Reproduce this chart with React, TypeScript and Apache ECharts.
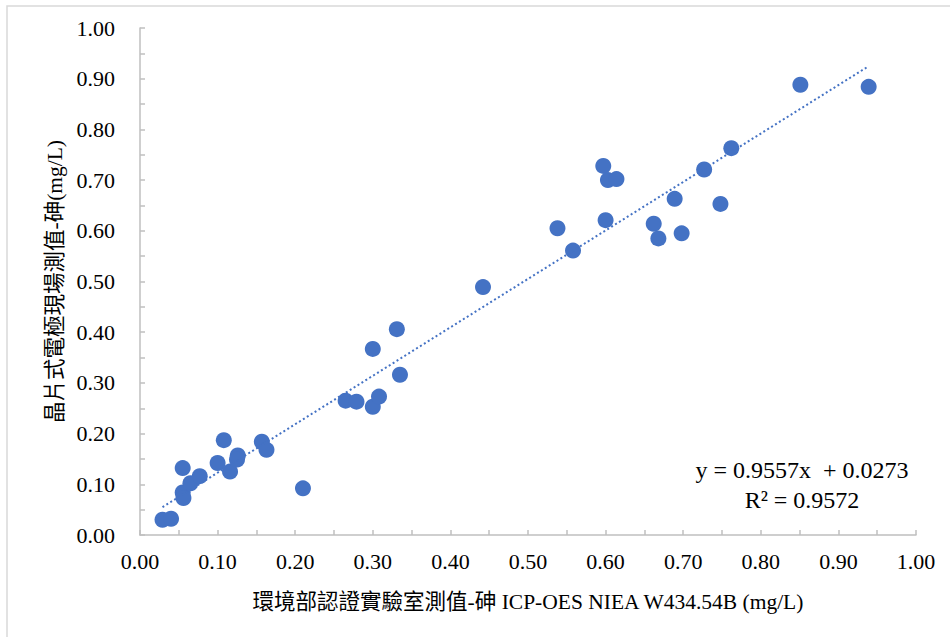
import React, { useEffect, useRef } from "react";
import * as echarts from "echarts";

const labX: number[] = [
  0.029, 0.04, 0.055, 0.055, 0.056, 0.065, 0.077, 0.108, 0.1, 0.116, 0.126, 0.125, 0.157, 0.163, 0.21,
  0.265, 0.279, 0.3, 0.308, 0.3, 0.331, 0.335, 0.442, 0.538, 0.558, 0.597, 0.603, 0.614, 0.6, 0.662,
  0.668, 0.689, 0.698, 0.727, 0.748, 0.762, 0.851, 0.939,
];
const fieldY: number[] = [
  0.03, 0.032, 0.132, 0.084, 0.073, 0.102, 0.116, 0.187, 0.142, 0.125, 0.157, 0.149, 0.184, 0.168, 0.092,
  0.265, 0.263, 0.253, 0.273, 0.367, 0.406, 0.316, 0.489, 0.605, 0.561, 0.728, 0.7, 0.702, 0.621, 0.614,
  0.585, 0.663, 0.595, 0.721, 0.653, 0.763, 0.888, 0.884,
];
const slope = 0.9557;
const intercept = 0.0273;
const rSquared = 0.9572;

const xAxisTitle = "環境部認證實驗室測值-砷 ICP-OES NIEA W434.54B (mg/L)";
const yAxisTitle = "晶片式電極現場測值-砷(mg/L)";

const FONT = "'Liberation Serif', 'Times New Roman', 'Noto Sans CJK TC', serif";
const BLUE = "#4472C4";
const AXIS = "#BFBFBF";

export default function App() {
  const ref = useRef<HTMLDivElement>(null);
  useEffect(() => {
    if (!ref.current) return;
    const chart = echarts.init(ref.current, undefined, { renderer: "svg" });
    const pts = labX.map((x, i) => [x, fieldY[i]]);
    const xmin = Math.min(...labX);
    const xmax = Math.max(...labX);
    const trend = [
      [xmin, slope * xmin + intercept],
      [xmax, slope * xmax + intercept],
    ];
    const fmt = (v: number) => (Math.round(v * 100) % 10 === 0 ? v.toFixed(2) : "");
    const axisCommon = {
      type: "value" as const,
      min: 0,
      max: 1,
      interval: 0.05,
      axisLine: { show: true, lineStyle: { color: AXIS, width: 1.5 } },
      axisTick: { show: true, inside: true, length: 5, lineStyle: { color: AXIS, width: 1.5 } },
      splitLine: { show: false },
      axisLabel: { formatter: fmt, color: "#000", fontFamily: FONT, fontSize: 22 },
      nameLocation: "middle" as const,
      nameTextStyle: { color: "#000", fontFamily: FONT, fontSize: 21.5 },
    };
    chart.setOption({
      animation: false,
      backgroundColor: "#fff",
      grid: { left: 140, right: 34, top: 28, bottom: 102, containLabel: false },
      xAxis: {
        ...axisCommon,
        name: xAxisTitle,
        nameGap: 56,
        axisLabel: { ...axisCommon.axisLabel, margin: 15 },
      },
      yAxis: {
        ...axisCommon,
        name: yAxisTitle,
        nameGap: 72,
        axisLabel: { ...axisCommon.axisLabel, margin: 25 },
      },
      graphic: [
        {
          type: "rect",
          shape: { x: 7, y: 6, width: 960, height: 660 },
          style: { fill: "none", stroke: "#D9D9D9", lineWidth: 1.5 },
          silent: true,
        },
        {
          type: "text",
          x: 802,
          y: 470,
          style: {
            text: `y = ${slope.toFixed(4)}x  + ${intercept.toFixed(4)}`,
            fill: "#000",
            font: `24px ${FONT}`,
            align: "center",
            verticalAlign: "middle",
          },
        },
        {
          type: "text",
          x: 802,
          y: 500,
          style: {
            text: `R² = ${rSquared.toFixed(4)}`,
            fill: "#000",
            font: `24px ${FONT}`,
            align: "center",
            verticalAlign: "middle",
          },
        },
      ],
      series: [
        {
          type: "line",
          data: trend,
          symbol: "none",
          lineStyle: { color: BLUE, width: 2, type: [2, 2.6], cap: "butt" },
          z: 3,
        },
        {
          type: "scatter",
          data: pts,
          symbol: "circle",
          symbolSize: 16,
          itemStyle: { color: BLUE, opacity: 1 },
          z: 2,
        },
      ],
    });
    return () => chart.dispose();
  }, []);
  return (
    <div
      ref={ref}
      style={{ position: "absolute", left: 0, top: 0, width: 950, height: 637, background: "#fff" }}
    />
  );
}
